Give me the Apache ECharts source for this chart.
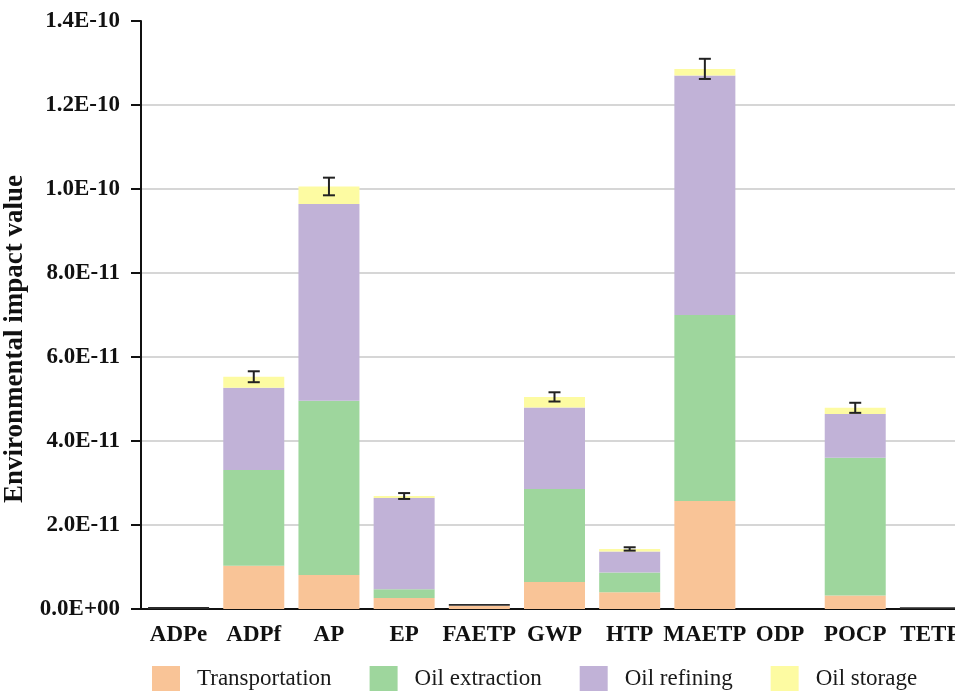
<!DOCTYPE html>
<html lang="en">
<head>
    <meta charset="UTF-8">
    <title>Environmental impact</title>
    <script src="https://cdn.jsdelivr.net/npm/echarts@6/dist/echarts.min.js"></script>
    <style>
        body { margin: 0; background: #fff; }
    </style>
</head>
<body>
<div id="echarts" style="width: 955px;height:691px"></div>
<script>
    var chartDom = document.getElementById('echarts');
    var myChart = echarts.init(chartDom);
    var option;

    // values in units of 1E-11
    var categories = ['ADPe', 'ADPf', 'AP', 'EP', 'FAETP', 'GWP', 'HTP', 'MAETP', 'ODP', 'POCP', 'TETP'];
    var transportation = [0, 1.03, 0.81, 0.26, 0.08, 0.64, 0.40, 2.57, 0, 0.32, 0];
    var oilExtraction = [0, 2.28, 4.15, 0.21, 0, 2.22, 0.47, 4.43, 0, 3.28, 0];
    var oilRefining = [0, 1.96, 4.68, 2.17, 0, 1.94, 0.50, 5.70, 0, 1.04, 0];
    var oilStorage = [0, 0.26, 0.42, 0.05, 0, 0.25, 0.06, 0.16, 0, 0.15, 0];
    var baseTrace = [0.05, 0, 0, 0, 0.04, 0, 0, 0, 0, 0, 0.04]; // dark lines on near-zero bars
    var errors = [0, 0.13, 0.21, 0.07, 0, 0.11, 0.04, 0.24, 0, 0.12, 0];
    var yTicks = [0, 2, 4, 6, 8, 10, 12, 14];
    var legendNames = ['Transportation', 'Oil extraction', 'Oil refining', 'Oil storage'];
    var colors = ['#F9C497', '#9ED69D', '#C1B2D7', '#FDFBA2'];

    var serif = '"Liberation Serif", "Times New Roman", serif';

    // error bar data: [index, total, err]
    var errData = [];
    for (var i = 0; i < categories.length; i++) {
        if (errors[i] > 0) {
            var total = transportation[i] + oilExtraction[i] + oilRefining[i] + oilStorage[i];
            errData.push([i, total, errors[i]]);
        }
    }

    function fmt(v) {
        var s = (v * 1e-11).toExponential(1).toUpperCase();
        var parts = s.split('E');
        var sign = parts[1].charAt(0) === '-' ? '-' : '+';
        var e = parts[1].replace('+', '').replace('-', '');
        if (e.length < 2) e = '0' + e;
        return parts[0] + 'E' + sign + e;
    }

    function barSeries(name, data, color) {
        return {
            name: name,
            type: 'bar',
            stack: 'total',
            barWidth: 61,
            itemStyle: { color: color },
            data: data
        };
    }

    option = {
        backgroundColor: '#ffffff',
        animation: false,
        textStyle: { fontFamily: serif },
        grid: {
            left: 141,
            top: 21,
            width: 827,
            height: 588,
            containLabel: false,
            outerBoundsMode: 'none'
        },
        legend: {
            data: legendNames,
            left: 152,
            top: 666,
            padding: 0,
            icon: 'rect',
            itemWidth: 28,
            itemHeight: 26,
            itemGap: 38,
            textStyle: {
                fontFamily: serif,
                fontSize: 23,
                color: '#1a1a1a',
                padding: [0, 0, 0, 12]
            }
        },
        xAxis: {
            type: 'category',
            data: categories,
            axisLine: { lineStyle: { color: '#111', width: 2 } },
            axisTick: { show: false },
            axisLabel: {
                fontFamily: serif,
                fontWeight: 'bold',
                fontSize: 23,
                color: '#111',
                margin: 15,
                interval: 0
            }
        },
        yAxis: {
            type: 'value',
            min: yTicks[0],
            max: yTicks[yTicks.length - 1],
            interval: 2,
            name: 'Environmental impact value',
            nameLocation: 'middle',
            nameGap: 102,
            nameTextStyle: {
                fontFamily: serif,
                fontWeight: 'bold',
                fontSize: 27,
                color: '#111',
                padding: [0, 48, 0, 0]
            },
            axisLine: { show: true, lineStyle: { color: '#111', width: 2 } },
            axisTick: { show: true, length: 10, lineStyle: { color: '#111', width: 2 } },
            axisLabel: {
                fontFamily: serif,
                fontWeight: 'bold',
                fontSize: 23,
                color: '#111',
                margin: 21,
                formatter: fmt
            },
            splitLine: {
                show: true,
                showMaxLine: false,
                lineStyle: { color: '#c8c8c8', width: 1.5 }
            }
        },
        series: [
            barSeries(legendNames[0], transportation, colors[0]),
            barSeries(legendNames[1], oilExtraction, colors[1]),
            barSeries(legendNames[2], oilRefining, colors[2]),
            barSeries(legendNames[3], oilStorage, colors[3]),
            barSeries('trace', baseTrace, '#2b2b2b'),
            {
                name: 'error',
                type: 'custom',
                data: errData,
                z: 10,
                renderItem: function(params, api) {
                    var x = api.value(0);
                    var hi = api.coord([x, api.value(1) + api.value(2)]);
                    var lo = api.coord([x, api.value(1) - api.value(2)]);
                    var half = 6;
                    var style = { stroke: '#222', lineWidth: 2 };
                    return {
                        type: 'group',
                        children: [
                            { type: 'line', shape: { x1: hi[0], y1: hi[1], x2: lo[0], y2: lo[1] }, style: style },
                            { type: 'line', shape: { x1: hi[0] - half, y1: hi[1], x2: hi[0] + half, y2: hi[1] }, style: style },
                            { type: 'line', shape: { x1: lo[0] - half, y1: lo[1], x2: lo[0] + half, y2: lo[1] }, style: style }
                        ]
                    };
                }
            }
        ]
    };

    option && myChart.setOption(option);
</script>
</body>
</html>
